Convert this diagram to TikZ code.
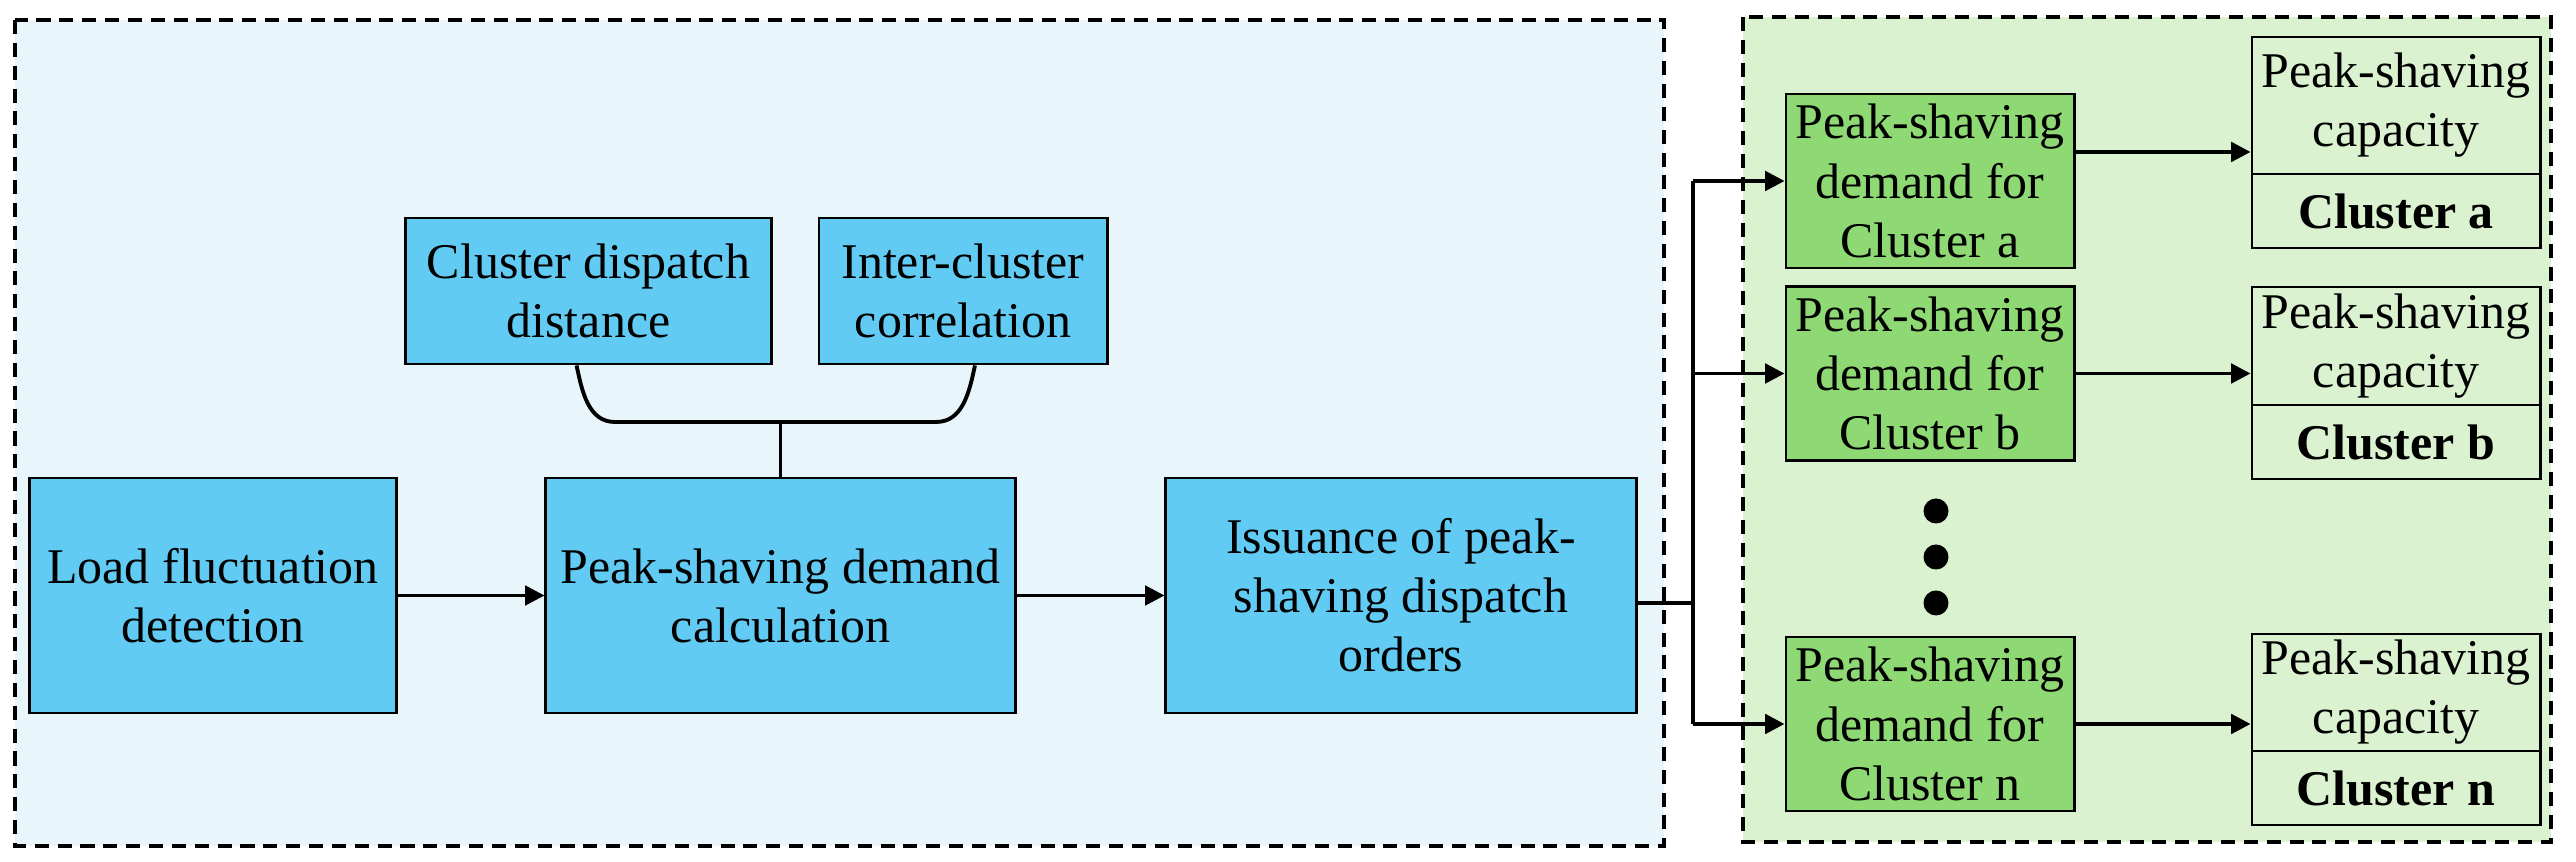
\documentclass[tikz,border=0pt]{standalone}
\usepackage{fontspec}
\setmainfont{Liberation Serif}
\usetikzlibrary{arrows.meta}
\definecolor{panelblue}{RGB}{232,246,252}
\definecolor{boxblue}{RGB}{97,203,243}
\definecolor{panelgreen}{RGB}{218,242,208}
\definecolor{boxgreen}{RGB}{142,217,115}
\tikzset{bluepanel/.style={fill=panelblue,draw=black,line width=0.9pt,dash pattern=on 4pt off 2.5pt}}
\tikzset{greenpanel/.style={fill=panelgreen,draw=black,line width=0.9pt,dash pattern=on 4pt off 2.5pt}}
\tikzset{bluebox/.style={draw,fill=boxblue,line width=0.8pt,align=center,inner sep=0pt}}
\tikzset{greenbox/.style={draw,fill=boxgreen,line width=0.8pt,align=center,inner sep=0pt,minimum width=2.88cm,minimum height=1.74cm}}
\tikzset{capbox/.style={draw,fill=panelgreen,line width=0.8pt,align=center,inner sep=0pt,minimum width=2.88cm}}
\tikzset{link/.style={line width=1.1pt}}
\tikzset{flow/.style={-{Triangle[length=5.5pt,width=5.5pt]},line width=1.1pt}}

\begin{document}
\begin{tikzpicture}[x=0.01cm,y=-0.01cm,font=\fontsize{14.2}{16.8}\selectfont]
	\useasboundingbox (0,0) rectangle (2576,862);
	\draw[bluepanel] (15,20) rectangle (1664,846);
	\draw[greenpanel] (1743,17) rectangle (2551,842);
	\node[bluebox,minimum width=3.66cm,minimum height=2.35cm] (load) at (213,595.5) {Load fluctuation\\detection};
	\node[bluebox,minimum width=4.69cm,minimum height=2.35cm] (calc) at (780.5,595.5) {Peak-shaving demand\\calculation};
	\node[bluebox,minimum width=4.70cm,minimum height=2.35cm] (iss) at (1401,595.5) {Issuance of peak-\\shaving dispatch\\orders};
	\node[bluebox,minimum width=3.65cm,minimum height=1.46cm] (dist) at (588.5,291) {Cluster dispatch\\distance};
	\node[bluebox,minimum width=2.88cm,minimum height=1.46cm] (corr) at (963,291) {Inter-cluster\\correlation};
	\node[greenbox] (grna) at (1930,181) {Peak-shaving\\demand for\\Cluster a};
	\node[greenbox] (grnb) at (1930,373.5) {Peak-shaving\\demand for\\Cluster b};
	\node[greenbox] (grnn) at (1930,724) {Peak-shaving\\demand for\\Cluster n};
	\node[capbox,minimum height=1.37cm] (capa) at (2396,105.5) {Peak-shaving\\capacity};
	\node[capbox,minimum height=0.74cm,font=\fontsize{14.2}{16.8}\selectfont\bfseries] (clua) at (2396,211) {Cluster a};
	\node[capbox,minimum height=1.18cm] (capb) at (2396,346) {Peak-shaving\\capacity};
	\node[capbox,minimum height=0.74cm,font=\fontsize{14.2}{16.8}\selectfont\bfseries] (club) at (2396,442) {Cluster b};
	\node[capbox,minimum height=1.17cm] (capn) at (2396,692.5) {Peak-shaving\\capacity};
	\node[capbox,minimum height=0.74cm,font=\fontsize{14.2}{16.8}\selectfont\bfseries] (clun) at (2396,788) {Cluster n};
	\fill (1936,511) circle (1.25mm);
	\fill (1936,557) circle (1.25mm);
	\fill (1936,603) circle (1.25mm);
	\coordinate (jl) at (615,422);
	\coordinate (jr) at (936,422);
	\coordinate (fork) at (1693,603);
	\coordinate (outa) at ([yshift=0.29cm]grna.east);
	\draw[link] ([xshift=-3.4pt]dist.south) to[out=-78,in=180] (jl) -- (jr) to[out=0,in=-102] ([xshift=3.4pt]corr.south);
	\draw[link] (calc.north |- jl) -- (calc.north);
	\draw[flow] (load) -- (calc);
	\draw[flow] (calc) -- (iss);
	\draw[link] (iss.east |- fork) -- (fork);
	\draw[link] (fork |- grna) -- (fork |- grnn);
	\draw[flow] (fork |- grna) -- (grna);
	\draw[flow] (fork |- grnb) -- (grnb);
	\draw[flow] (fork |- grnn) -- (grnn);
	\draw[flow] (outa) -- (outa -| capa.west);
	\draw[flow] (grnb) -- (grnb -| capb.west);
	\draw[flow] (grnn) -- (grnn -| capn.west);
\end{tikzpicture}
\end{document}
